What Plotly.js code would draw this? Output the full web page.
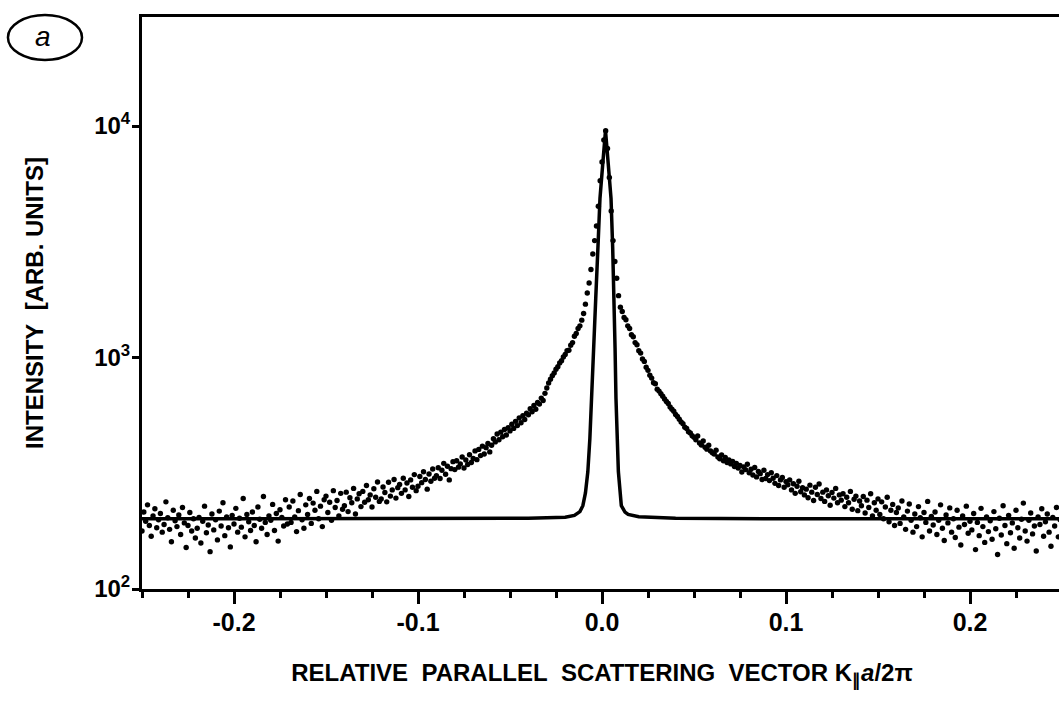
<!DOCTYPE html>
<html>
<head>
<meta charset="utf-8">
<script src="https://cdn.plot.ly/plotly-3.0.1.min.js"></script>
<style>
html,body{margin:0;padding:0;background:#fff;overflow:hidden;}
#wrap{width:1059px;height:703px;overflow:hidden;position:relative;}
#chart{width:1070px;height:703px;}
</style>
</head>
<body>
<div id="wrap"><div id="chart"></div></div>
<script>
// Measured scattering vector (K_par a / 2pi) for the dots
const dataX = [
-0.250,-0.249,-0.248,-0.247,-0.246,-0.245,-0.244,-0.243,-0.242,-0.241,
-0.240,-0.239,-0.238,-0.237,-0.236,-0.235,-0.234,-0.233,-0.232,-0.231,
-0.230,-0.229,-0.228,-0.227,-0.226,-0.225,-0.224,-0.223,-0.222,-0.221,
-0.220,-0.219,-0.218,-0.217,-0.216,-0.215,-0.214,-0.213,-0.212,-0.211,
-0.210,-0.209,-0.208,-0.207,-0.206,-0.205,-0.204,-0.203,-0.202,-0.201,
-0.200,-0.199,-0.198,-0.197,-0.196,-0.195,-0.194,-0.193,-0.192,-0.191,
-0.190,-0.189,-0.188,-0.187,-0.186,-0.185,-0.184,-0.183,-0.182,-0.181,
-0.180,-0.179,-0.178,-0.177,-0.176,-0.175,-0.174,-0.173,-0.172,-0.171,
-0.170,-0.169,-0.168,-0.167,-0.166,-0.165,-0.164,-0.163,-0.162,-0.161,
-0.160,-0.159,-0.158,-0.157,-0.156,-0.155,-0.154,-0.153,-0.152,-0.151,
-0.150,-0.149,-0.148,-0.147,-0.146,-0.145,-0.144,-0.143,-0.142,-0.141,
-0.140,-0.139,-0.138,-0.137,-0.136,-0.135,-0.134,-0.133,-0.132,-0.131,
-0.130,-0.129,-0.128,-0.127,-0.126,-0.125,-0.124,-0.123,-0.122,-0.121,
-0.120,-0.119,-0.118,-0.117,-0.116,-0.115,-0.114,-0.113,-0.112,-0.111,
-0.110,-0.109,-0.108,-0.107,-0.106,-0.105,-0.104,-0.103,-0.102,-0.101,
-0.100,-0.099,-0.098,-0.097,-0.096,-0.095,-0.094,-0.093,-0.092,-0.091,
-0.090,-0.089,-0.088,-0.087,-0.086,-0.085,-0.084,-0.083,-0.082,-0.081,
-0.080,-0.079,-0.078,-0.077,-0.076,-0.075,-0.074,-0.073,-0.072,-0.071,
-0.070,-0.069,-0.068,-0.067,-0.066,-0.065,-0.064,-0.063,-0.062,-0.061,
-0.060,-0.059,-0.058,-0.057,-0.056,-0.055,-0.054,-0.053,-0.052,-0.051,
-0.050,-0.049,-0.048,-0.047,-0.046,-0.045,-0.044,-0.043,-0.042,-0.041,
-0.040,-0.039,-0.038,-0.037,-0.036,-0.035,-0.034,-0.033,-0.032,-0.031,
-0.030,-0.029,-0.028,-0.027,-0.026,-0.025,-0.024,-0.023,-0.022,-0.021,
-0.020,-0.019,-0.018,-0.017,-0.016,-0.015,-0.014,-0.013,-0.012,-0.011,
-0.010,-0.009,-0.008,-0.007,-0.006,-0.005,-0.004,-0.003,-0.002,-0.001,
0.000,
0.001,0.002,0.003,0.004,0.005,0.006,0.007,0.008,0.009,0.010,
0.011,0.012,0.013,0.014,0.015,0.016,0.017,0.018,0.019,0.020,
0.021,0.022,0.023,0.024,0.025,0.026,0.027,0.028,0.029,0.030,
0.031,0.032,0.033,0.034,0.035,0.036,0.037,0.038,0.039,0.040,
0.041,0.042,0.043,0.044,0.045,0.046,0.047,0.048,0.049,0.050,
0.051,0.052,0.053,0.054,0.055,0.056,0.057,0.058,0.059,0.060,
0.061,0.062,0.063,0.064,0.065,0.066,0.067,0.068,0.069,0.070,
0.071,0.072,0.073,0.074,0.075,0.076,0.077,0.078,0.079,0.080,
0.081,0.082,0.083,0.084,0.085,0.086,0.087,0.088,0.089,0.090,
0.091,0.092,0.093,0.094,0.095,0.096,0.097,0.098,0.099,0.100,
0.101,0.102,0.103,0.104,0.105,0.106,0.107,0.108,0.109,0.110,
0.111,0.112,0.113,0.114,0.115,0.116,0.117,0.118,0.119,0.120,
0.121,0.122,0.123,0.124,0.125,0.126,0.127,0.128,0.129,0.130,
0.131,0.132,0.133,0.134,0.135,0.136,0.137,0.138,0.139,0.140,
0.141,0.142,0.143,0.144,0.145,0.146,0.147,0.148,0.149,0.150,
0.151,0.152,0.153,0.154,0.155,0.156,0.157,0.158,0.159,0.160,
0.161,0.162,0.163,0.164,0.165,0.166,0.167,0.168,0.169,0.170,
0.171,0.172,0.173,0.174,0.175,0.176,0.177,0.178,0.179,0.180,
0.181,0.182,0.183,0.184,0.185,0.186,0.187,0.188,0.189,0.190,
0.191,0.192,0.193,0.194,0.195,0.196,0.197,0.198,0.199,0.200,
0.201,0.202,0.203,0.204,0.205,0.206,0.207,0.208,0.209,0.210,
0.211,0.212,0.213,0.214,0.215,0.216,0.217,0.218,0.219,0.220,
0.221,0.222,0.223,0.224,0.225,0.226,0.227,0.228,0.229,0.230,
0.231,0.232,0.233,0.234,0.235,0.236,0.237,0.238,0.239,0.240,
0.241,0.242,0.243,0.244,0.245,0.246,0.247,0.248,0.249,0.250
];

// Measured intensity (arb. units) for the dots
const dataY = [
178,215,196,231,188,169,207,222,184,199,
212,176,190,238,203,181,160,219,197,186,
209,172,225,193,151,188,214,178,201,166,
183,204,158,196,228,175,189,145,211,180,
199,163,217,187,236,170,205,184,152,208,
191,223,176,202,185,246,168,210,195,179,
215,188,160,226,200,183,251,194,172,207,
198,232,179,212,161,220,204,187,243,191,
226,194,240,205,177,218,256,199,183,231,
210,246,192,235,219,264,201,228,186,243,
252,214,237,198,266,225,241,207,259,221,
229,262,216,248,236,272,211,245,258,227,
264,237,280,243,255,226,271,249,290,239,
245,276,261,238,289,252,268,297,247,274,
283,259,301,268,287,251,296,275,312,266,
278,306,288,321,297,270,314,292,330,301,
309,334,300,326,349,313,339,296,331,355,
328,358,336,347,372,333,361,345,380,352,
366,395,362,401,377,414,383,408,425,391,
418,446,432,467,441,476,455,489,463,497,
482,515,494,530,508,548,523,561,540,575,
566,601,583,621,598,640,629,668,652,700,
738,776,806,835,858,890,912,948,968,1005,
1030,1070,1075,1130,1160,1235,1270,1335,1370,1450,
1550,1700,1900,2100,2400,2800,3200,3700,4500,5800,
7000,
8700,9550,8000,6000,4300,3200,2600,2200,1850,1650,
1580,1490,1455,1370,1335,1255,1230,1160,1135,1070,
1045,985,962,908,880,838,815,778,770,730,
716,697,680,662,646,633,611,598,586,568,
556,541,527,518,500,494,478,472,459,452,
441,458,427,419,436,410,402,418,395,388,
383,398,372,365,379,358,370,352,361,347,
356,338,349,333,342,320,337,328,346,318,
329,311,335,305,322,315,297,326,300,312,
294,318,301,286,309,280,296,303,275,291,
282,296,268,285,259,278,292,263,274,255,
270,248,281,262,241,275,256,284,246,262,
239,268,253,230,261,247,272,236,255,242,
258,227,249,236,264,221,244,252,218,240,
229,251,213,242,225,258,207,236,219,245,
210,238,201,226,249,195,219,232,188,214,
224,192,240,205,181,217,233,198,176,211,
186,227,203,168,214,194,239,178,206,189,
215,172,198,231,183,162,209,193,224,176,
201,167,219,185,155,207,190,228,174,196,
180,212,148,194,170,223,186,159,205,177,
197,164,216,182,141,202,171,229,188,157,
208,175,193,150,219,184,166,200,235,178,
161,198,213,173,187,146,205,190,222,169,
195,211,176,153,204,187,225,168,199,183
];

// Solid curve (resolution function on flat background)
const lineX = [-0.25,-0.1,-0.04,-0.02,-0.015,-0.012,-0.0104,-0.009,-0.0077,-0.0066,-0.0058,-0.0046,-0.0034,-0.0022,-0.0011,0.0004,0.0019,0.0034,0.0049,0.0058,0.0066,0.0071,0.0076,0.0081,0.0089,0.0105,0.0125,0.0142,0.02,0.04,0.1,0.25];
const lineY = [201,201,202,204,208,216,229,260,321,446,665,1150,1800,3000,4875,6840,9550,6840,4875,3000,1800,1100,665,446,321,229,215,210,205,202,201,201];

// Tick labels
const xTickVals = [-0.2,-0.1,0.0,0.1,0.2];
const xTickText = ['-0.2','-0.1','0.0','0.1','0.2'];
const yTickVals = [100,1000,10000];
const yTickText = ['10<sup>2</sup>','10<sup>3</sup>','10<sup>4</sup>'];

const FONT = '"Liberation Sans", Arial, Helvetica, sans-serif';

const traces = [
  {x: lineX, y: lineY, type: 'scatter', mode: 'lines',
   line: {color: '#000', width: 3.5}, hoverinfo: 'skip'},
  {x: dataX, y: dataY, type: 'scatter', mode: 'markers',
   marker: {color: '#000', size: 5.4}, hoverinfo: 'skip'}
];

const layout = {
  width: 1070, height: 703,
  margin: {l: 142, r: 8, t: 17, b: 114},
  paper_bgcolor: '#fff', plot_bgcolor: '#fff',
  showlegend: false,
  font: {family: FONT, color: '#000', size: 24, weight: 'bold'},
  xaxis: {
    range: [-0.25, 0.25],
    tickmode: 'array', tickvals: xTickVals, ticktext: xTickText,
    ticks: 'outside', ticklen: 12, tickwidth: 3, tickcolor: '#000',
    showline: true, linewidth: 3, linecolor: '#000', mirror: true,
    showgrid: false, zeroline: false,
    ticklabelstandoff: -3,
    tickfont: {family: FONT, size: 25, color: '#000', weight: 'bold'},
    minor: {tickmode: 'linear', tick0: 0, dtick: 0.025, ticks: 'outside',
            ticklen: 6, tickwidth: 3, tickcolor: '#000', showgrid: false},
    title: {text: 'RELATIVE\u00a0\u00a0PARALLEL\u00a0\u00a0SCATTERING\u00a0\u00a0VECTOR\u00a0K<sub>\u2225</sub><i>a</i>/2\u03c0',
            font: {family: FONT, size: 24, color: '#000', weight: 'bold'}, standoff: 30}
  },
  yaxis: {
    type: 'log', range: [2, 4.471],
    tickmode: 'array', tickvals: yTickVals, ticktext: yTickText,
    ticks: 'outside', ticklen: 7, tickwidth: 3, tickcolor: '#000',
    showline: true, linewidth: 3, linecolor: '#000', mirror: true,
    showgrid: false, zeroline: false,
    ticklabelstandoff: -3,
    tickfont: {family: FONT, size: 24, color: '#000', weight: 'bold'},
    title: {text: 'INTENSITY\u00a0\u00a0[ARB. UNITS]',
            font: {family: FONT, size: 24, color: '#000', weight: 'bold'}, standoff: 44}
  },
  shapes: [
    {type: 'circle', xref: 'paper', yref: 'paper',
     x0: -0.1457, x1: -0.0652, y0: 0.9248, y1: 1.0035,
     line: {color: '#000', width: 2.5}}
  ],
  annotations: [
    {text: '<i>a</i>', xref: 'paper', yref: 'paper', x: -0.1075, y: 0.966,
     showarrow: false, xanchor: 'center', yanchor: 'middle',
     font: {family: FONT, size: 28, color: '#000', weight: 'normal'}}
  ]
};

Plotly.newPlot('chart', traces, layout, {staticPlot: true, displayModeBar: false});
</script>
</body>
</html>
